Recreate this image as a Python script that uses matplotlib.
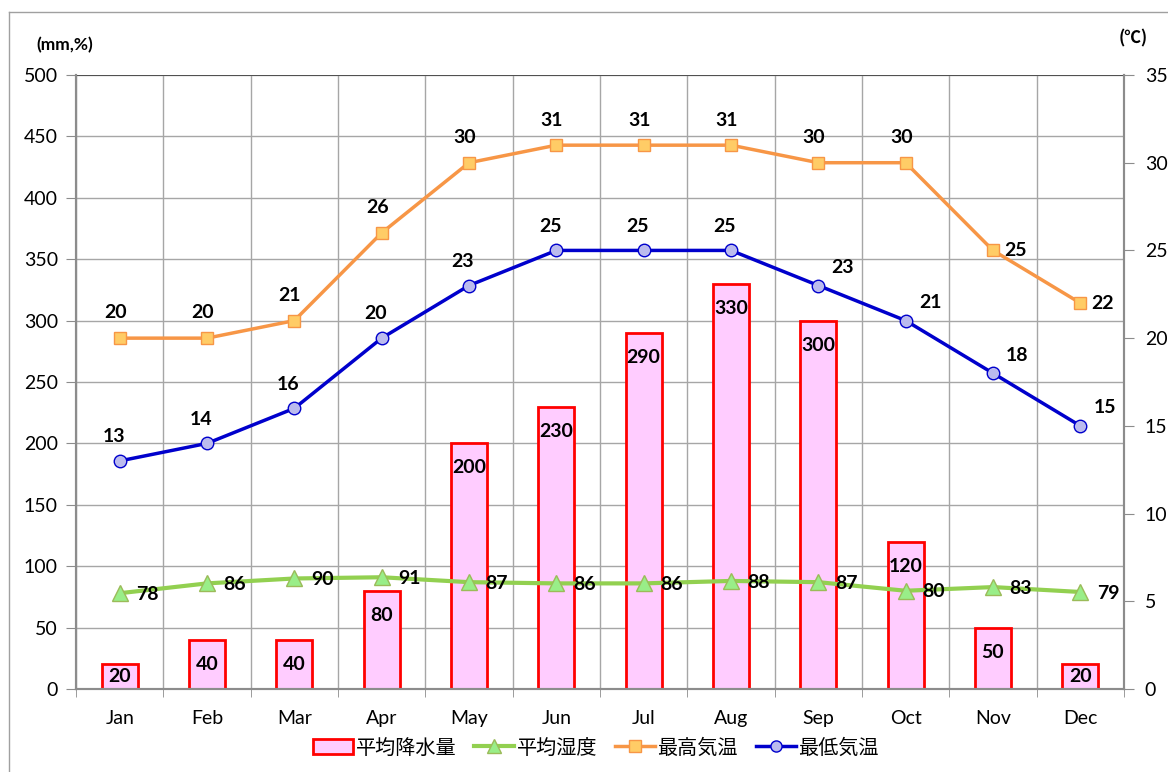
import matplotlib
matplotlib.use("Agg")
import matplotlib.pyplot as plt
from matplotlib.lines import Line2D
from matplotlib.patches import Patch
import numpy as np

plt.rcParams['font.family'] = ['Lato', 'Noto Sans CJK JP', 'DejaVu Sans']

months = ["Jan", "Feb", "Mar", "Apr", "May", "Jun", "Jul", "Aug", "Sep", "Oct", "Nov", "Dec"]
rain = [20, 40, 40, 80, 200, 230, 290, 330, 300, 120, 50, 20]
humidity = [78, 86, 90, 91, 87, 86, 86, 88, 87, 80, 83, 79]
t_high = [20, 20, 21, 26, 30, 31, 31, 31, 30, 30, 25, 22]
t_low = [13, 14, 16, 20, 23, 25, 25, 25, 23, 21, 18, 15]

x = np.arange(len(months))

fig = plt.figure(figsize=(11.68, 7.72), dpi=100)
ax = fig.add_axes([76 / 1168, 1 - 689 / 772, (1124 - 76) / 1168, (689 - 75) / 772])
ax2 = ax.twinx()

# chart frame
fig.add_artist(Line2D([9 / 1168, 9 / 1168], [0, 1 - 12 / 772], color="#a0a0a0", lw=1))
fig.add_artist(Line2D([9 / 1168, 1], [1 - 12 / 772, 1 - 12 / 772], color="#a0a0a0", lw=1))

gray = "#8c8c8c"
fs = 14
ax.set_xlim(-0.5, 11.5)
ax.set_ylim(0, 500)
ax.set_yticks(np.arange(0, 501, 50))
ax2.set_ylim(0, 35)
ax2.set_yticks(np.arange(0, 36, 5))

ax.set_xticks(x)
ax.set_xticklabels(months)
ax.set_xticks(np.arange(-0.5, 12, 1), minor=True)
ax.tick_params(axis="x", which="major", length=0, pad=15, labelsize=fs)
ax.tick_params(axis="x", which="minor", length=6, color=gray, direction="out")
ax.tick_params(axis="y", length=7, color=gray, labelsize=fs, pad=6)
ax2.tick_params(axis="y", length=7, color=gray, labelsize=fs, pad=8)
ax.grid(True, which="minor", axis="x", color="#a6a6a6", lw=1)
ax.grid(True, which="major", axis="y", color="#a6a6a6", lw=1)
ax.set_axisbelow(True)
for a in (ax, ax2):
    a.spines["top"].set_visible(False)
    for side in ("left", "right", "bottom"):
        a.spines[side].set_color(gray)
        a.spines[side].set_linewidth(1.5)
ax.axhline(500, color="#404040", lw=1.2, zorder=1)

ax.bar(x, rain, width=0.41, color="#ffccff", edgecolor="#ff0000", linewidth=2, zorder=2)
for xi, v in zip(x, rain):
    yc = max(v - 20, v / 2)
    ax.text(xi, yc, str(v), ha="center", va="center", fontsize=fs, fontweight="bold", zorder=5)

ax.plot(x, humidity, color="#92d050", lw=3, marker="^", markersize=12,
        markerfacecolor="#99ee88", markeredgecolor="#9bbb59", markeredgewidth=1, zorder=4)
for xi, v in zip(x, humidity):
    ax.text(xi + 0.19, v - 1, str(v), ha="left", va="center", fontsize=fs, fontweight="bold", zorder=5)

ax2.plot(x, t_high, color="#f79646", lw=2.5, marker="s", markersize=9,
         markerfacecolor="#ffcc66", markeredgecolor="#f79646", markeredgewidth=1, zorder=4)
ax2.plot(x, t_low, color="#0000cc", lw=2.5, marker="o", markersize=9,
         markerfacecolor="#bbbbee", markeredgecolor="#0000cc", markeredgewidth=1, zorder=4)

for xi, v in zip(x, t_high):
    if xi >= 10:
        ax2.text(xi + 0.13, v, str(v), ha="left", va="center", fontsize=fs, fontweight="bold")
    else:
        ax2.text(xi - 0.05, v + 0.95, str(v), ha="center", va="bottom", fontsize=fs, fontweight="bold")
for xi, v in zip(x, t_low):
    if xi >= 8:
        ax2.text(xi + 0.15, v + 0.55, str(v), ha="left", va="bottom", fontsize=fs, fontweight="bold")
    else:
        ax2.text(xi - 0.07, v + 0.9, str(v), ha="center", va="bottom", fontsize=fs, fontweight="bold")

fig.text(65 / 1168, 1 - 45 / 772, "(mm,%)", ha="center", va="center", fontsize=12.5, fontweight="bold")
fig.text(1133 / 1168, 1 - 38 / 772, "(℃)", ha="center", va="center", fontsize=12, fontweight="bold",
         family=['Noto Sans CJK JP', 'DejaVu Sans'])

handles = [
    Patch(facecolor="#ffccff", edgecolor="#ff0000", linewidth=2),
    Line2D([], [], color="#92d050", lw=3, marker="^", markersize=10,
           markerfacecolor="#99ee88", markeredgecolor="#9bbb59"),
    Line2D([], [], color="#f79646", lw=2.5, marker="s", markersize=8,
           markerfacecolor="#ffcc66", markeredgecolor="#f79646"),
    Line2D([], [], color="#0000cc", lw=2.5, marker="o", markersize=8,
           markerfacecolor="#bbbbee", markeredgecolor="#0000cc"),
]
labels = ["平均降水量", "平均湿度", "最高気温", "最低気温"]
fig.legend(handles, labels, loc="center", bbox_to_anchor=(596 / 1168, 1 - 748 / 772), ncol=4,
           frameon=False, handlelength=2.0, handletextpad=0.1, columnspacing=0.9,
           prop={'family': ['Noto Sans CJK JP', 'DejaVu Sans'], 'size': 14.5})

fig.savefig("out.png", dpi=100)
